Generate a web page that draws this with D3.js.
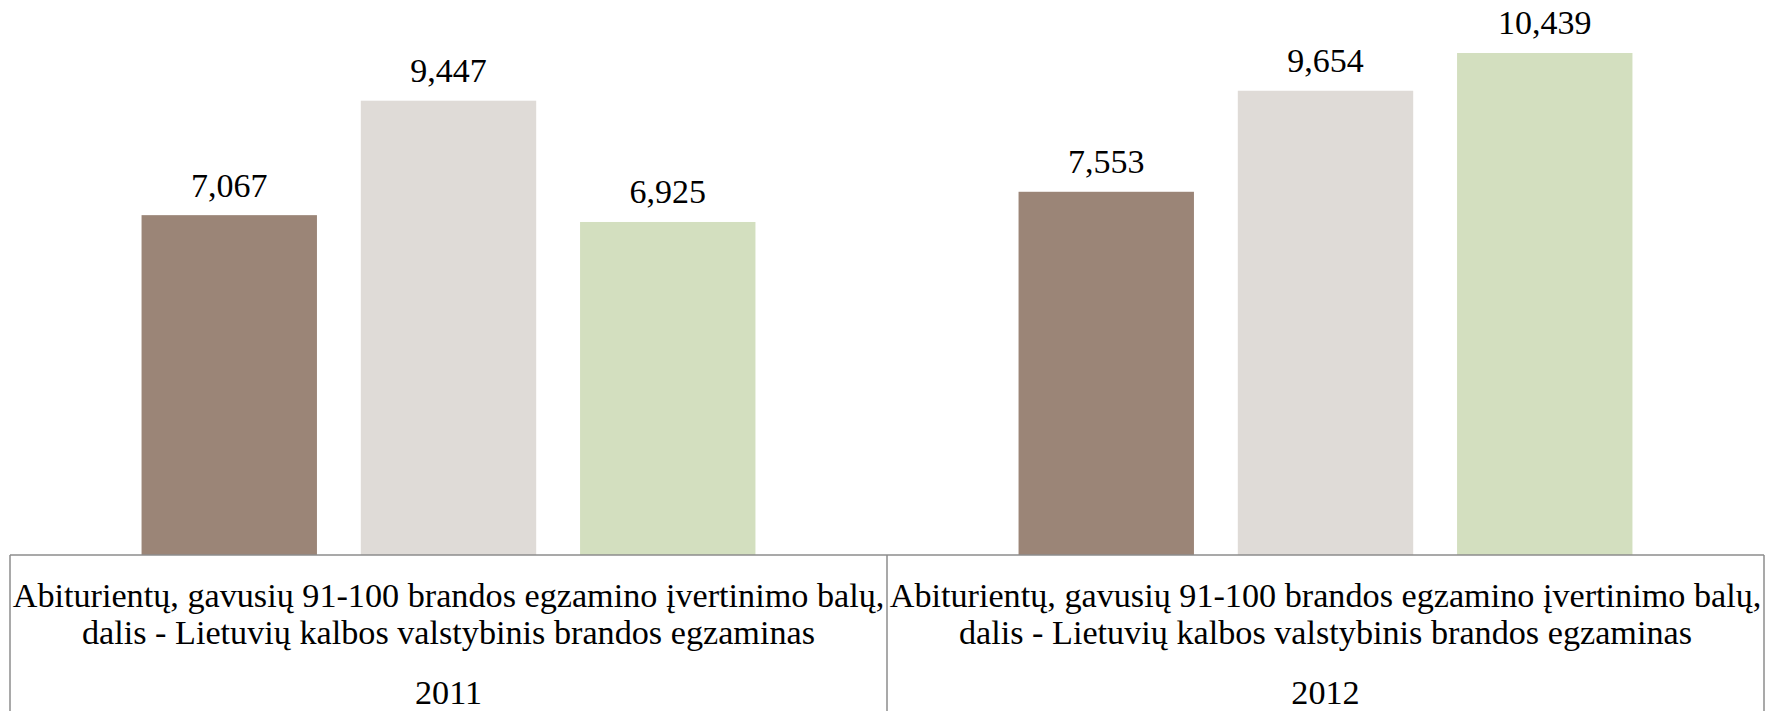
<!DOCTYPE html>
<html>
<head>
<meta charset="utf-8">
<script src="https://cdn.jsdelivr.net/npm/d3@7"></script>
<style>
  html, body { margin: 0; padding: 0; background: #fff; }
  svg { display: block; }
</style>
</head>
<body>
<div id="chart"></div>
<script>
// data

const years = ['2011', '2012']
const categoryLines = [
  'Abiturientų, gavusių 91-100 brandos egzamino įvertinimo balų,',
  'dalis - Lietuvių kalbos valstybinis brandos egzaminas'
]
const seriesNames = ['Serija 1', 'Serija 2', 'Serija 3']
const values2011 = [7.067, 9.447, 6.925]
const values2012 = [7.553, 9.654, 10.439]
const seriesColors = ['#9b8577', '#dfdbd7', '#d3dfbf']

const WIDTH = 1765, HEIGHT = 711
const AXIS_Y = 555

const rows = years.map( (y, i) => ({ year: y, values: [values2011, values2012][i] }) )

// scales

let x0 = d3.scaleBand()
  .domain(years)
  .range([10, 1764])

let x1 = d3.scaleBand()
  .domain(seriesNames)
  .range([0, x0.bandwidth()])
  .paddingInner(0.2)
  .paddingOuter(0.6)

let y = d3.scaleLinear()
  .domain([0, 11.541])
  .range([AXIS_Y, 0])

let color = d3.scaleOrdinal()
  .domain(seriesNames)
  .range(seriesColors)

let lt = d3.formatLocale({ decimal: ',', thousands: ' ', grouping: [3], currency: ['', ''] })
let fmt = lt.format('.3f')

// view

let svg = d3.select('#chart').append('svg')
  .attr('width', WIDTH)
  .attr('height', HEIGHT)

let groups = svg.selectAll('g.year')
  .data(rows)
  .join('g')
    .attr('class', 'year')
    .attr('transform', (d) => 'translate(' + x0(d.year) + ',0)')

groups.selectAll('rect')
  .data( (d) => d.values.map( (v, i) => ({ key: seriesNames[i], value: v })) )
  .join('rect')
    .attr('x', (d) => x1(d.key))
    .attr('y', (d) => y(d.value))
    .attr('width', x1.bandwidth())
    .attr('height', (d) => y(0) - y(d.value))
    .attr('fill', (d) => color(d.key))

groups.selectAll('text.value')
  .data( (d) => d.values.map( (v, i) => ({ key: seriesNames[i], value: v })) )
  .join('text')
    .attr('class', 'value')
    .attr('x', (d) => x1(d.key) + x1.bandwidth() / 2)
    .attr('y', (d) => y(d.value) - 18.5)
    .attr('text-anchor', 'middle')
    .attr('font-family', '"Liberation Serif", serif')
    .attr('font-size', 34)
    .attr('fill', '#000')
    .text( (d) => fmt(d.value) )

// category axis box

let axis = svg.append('g')
  .attr('stroke', '#8c8c8c')
  .attr('stroke-width', 1.5)
  .attr('fill', 'none')

axis.append('line')
  .attr('x1', x0.range()[0]).attr('x2', x0.range()[1])
  .attr('y1', AXIS_Y).attr('y2', AXIS_Y)

let edges = years.map( (yr) => x0(yr) ).concat([x0.range()[1]])
axis.selectAll('line.tick')
  .data(edges)
  .join('line')
    .attr('class', 'tick')
    .attr('x1', (d) => d).attr('x2', (d) => d)
    .attr('y1', AXIS_Y).attr('y2', HEIGHT)

let labels = svg.append('g')
  .attr('font-family', '"Liberation Serif", serif')
  .attr('font-size', 34.2)
  .attr('fill', '#000')
  .attr('text-anchor', 'middle')

years.forEach( (yr) => {
  let cx = x0(yr) + x0.bandwidth() / 2
  categoryLines.forEach( (line, i) => {
    labels.append('text')
      .attr('x', cx)
      .attr('y', 607 + i * 37)
      .text(line)
  })
  labels.append('text')
    .attr('x', cx)
    .attr('y', 704)
    .text(yr)
})
</script>
</body>
</html>
